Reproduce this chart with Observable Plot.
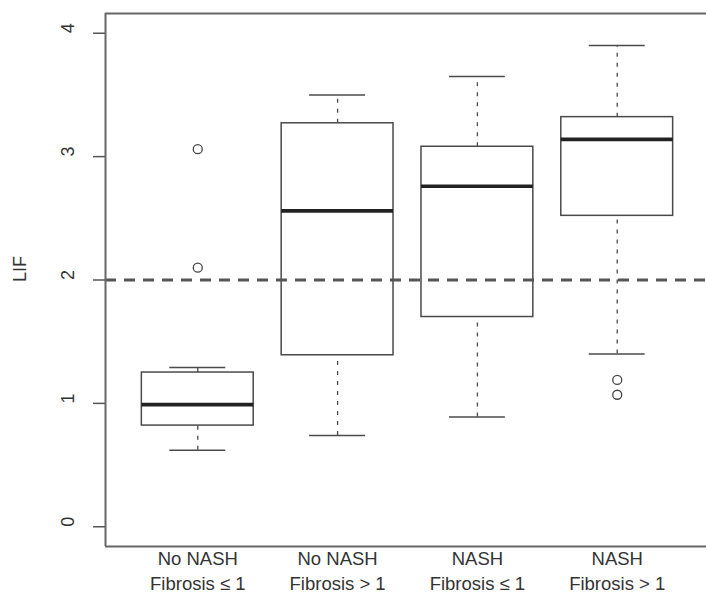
<!DOCTYPE html>
<html>
<head>
<meta charset="utf-8">
<script src="https://cdn.jsdelivr.net/npm/d3@7"></script>
<script src="https://cdn.jsdelivr.net/npm/@observablehq/plot@0.6"></script>
<style>
  html, body { margin: 0; padding: 0; background: #fff; }
  #chart svg { display: block; }
</style>
</head>
<body>
<div id="chart"></div>
<script>
// ---- data ----
const categories = ["No NASH\nFibrosis ≤ 1", "No NASH\nFibrosis > 1", "NASH\nFibrosis ≤ 1", "NASH\nFibrosis > 1"];
const lowerWhisker = [0.62, 0.74, 0.89, 1.40];
const q1 = [0.82, 1.39, 1.70, 2.52];
const median = [0.99, 2.56, 2.76, 3.14];
const q3 = [1.25, 3.27, 3.08, 3.32];
const upperWhisker = [1.29, 3.50, 3.65, 3.90];
const outlierGroup = [0, 0, 3, 3];
const outlierValue = [3.06, 2.10, 1.19, 1.07];
const yTicks = [0, 1, 2, 3, 4];
const cutoff = [2];
const yLabel = "LIF";

// ---- derived tables ----
const boxes = categories.map((c, i) => ({
  pos: i + 1, label: c,
  lo: lowerWhisker[i], q1: q1[i], med: median[i], q3: q3[i], hi: upperWhisker[i]
}));
const outliers = outlierValue.map((v, i) => ({pos: outlierGroup[i] + 1, value: v}));

const yMin = -0.16, yMax = 4.16;      // R's 4% axis extension of [0,4]
const xMin = 0.34, xMax = 4.66;       // R's 4% extension of [0.5,4.5]
const halfBox = 0.4, halfCap = 0.2;
const W = 706, H = 596;
const mLeft = 105, mTop = 13, mBottom = 50;

const boxStroke = "#4a4a4a";
const frameStroke = "#666";

const chart = Plot.plot({
  width: W,
  height: H,
  marginLeft: mLeft,
  marginRight: 0,
  marginTop: mTop,
  marginBottom: mBottom,
  style: {fontFamily: "'Liberation Sans', Arial, sans-serif", background: "#fff", color: "#333"},
  x: {type: "linear", domain: [xMin, xMax], range: [mLeft, 709], axis: null},
  y: {domain: [yMin, yMax], axis: null},
  marks: [
    // y ticks
    Plot.axisY({ticks: yTicks, tickSize: 12, tickFormat: () => "", stroke: "#555", strokeWidth: 1.5}),
    Plot.text(yTicks, {y: d => d, text: d => String(d), frameAnchor: "left", dx: -37, rotate: -90,
      fontSize: 18, fill: "#333"}),
    Plot.text([yLabel], {text: d => d, frameAnchor: "left", dx: -85, dy: 2, rotate: -90, fontSize: 18, fill: "#333"}),
    // whiskers
    Plot.ruleX(boxes, {x: "pos", y1: "q3", y2: "hi", stroke: boxStroke, strokeWidth: 1.3, strokeDasharray: "4,6"}),
    Plot.ruleX(boxes, {x: "pos", y1: "lo", y2: "q1", stroke: boxStroke, strokeWidth: 1.3, strokeDasharray: "4,6"}),
    Plot.ruleY(boxes, {y: "hi", x1: d => d.pos - halfCap, x2: d => d.pos + halfCap, stroke: boxStroke, strokeWidth: 1.5}),
    Plot.ruleY(boxes, {y: "lo", x1: d => d.pos - halfCap, x2: d => d.pos + halfCap, stroke: boxStroke, strokeWidth: 1.5}),
    // boxes
    Plot.rect(boxes, {x1: d => d.pos - halfBox, x2: d => d.pos + halfBox, y1: "q1", y2: "q3",
      fill: "#fff", stroke: boxStroke, strokeWidth: 1.5}),
    // reference line
    Plot.ruleY(cutoff, {y: d => d, x1: xMin, x2: xMax, stroke: "#555", strokeWidth: 3.2, strokeDasharray: "11,8"}),
    // medians
    Plot.ruleY(boxes, {y: "med", x1: d => d.pos - halfBox, x2: d => d.pos + halfBox, stroke: "#222", strokeWidth: 3.6}),
    // outliers
    Plot.dot(outliers, {x: "pos", y: "value", r: 4.5, stroke: "#444", strokeWidth: 1.3, fill: "none"}),
    // frame
    Plot.ruleY([yMin, yMax], {y: d => d, x1: xMin, x2: xMax, stroke: frameStroke, strokeWidth: 2}),
    Plot.ruleX([xMin, xMax], {x: d => d, y1: yMin, y2: yMax, stroke: frameStroke, strokeWidth: 2}),
    // category labels
    Plot.text(boxes, {x: "pos", text: "label", frameAnchor: "bottom", dy: 23, lineAnchor: "middle",
      lineHeight: 1.32, fontSize: 18.5, fill: "#333"})
  ]
});
document.getElementById("chart").appendChild(chart);
</script>
</body>
</html>
